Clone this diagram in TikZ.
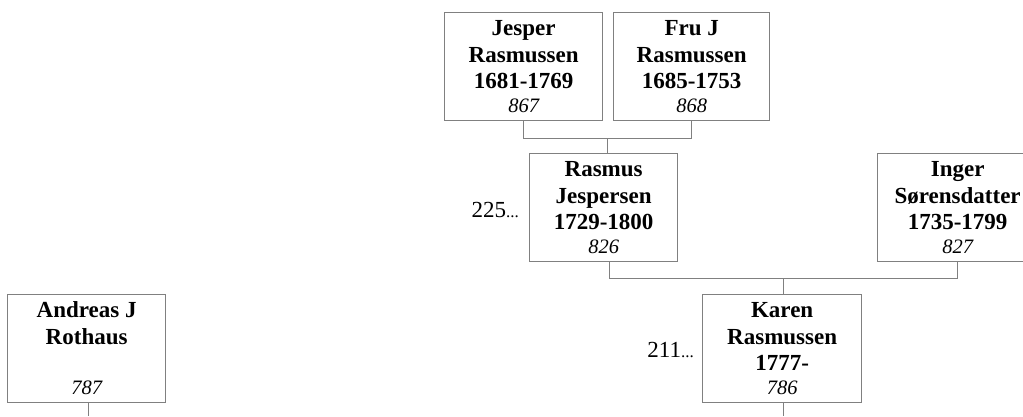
\documentclass[tikz,border=0pt]{standalone}
\usepackage{fontspec}
\usetikzlibrary{calc}
\setmainfont{Liberation Serif}
\newfontfamily\namefont{Liberation Serif}
\definecolor{linegray}{RGB}{128,128,128}
\tikzset{
  personbox/.style={draw=linegray, line width=1.3pt, fill=white, inner sep=0pt, minimum height=108pt, anchor=north west},
  nameline/.style={anchor=base, inner sep=0pt, font=\namefont\bfseries\fontsize{23}{26}\selectfont},
  numline/.style={anchor=base, inner sep=0pt, font=\itshape\fontsize{20.5}{23}\selectfont},
  conn/.style={draw=linegray, line width=1.3pt},
  refnum/.style={anchor=base east, inner sep=0pt}
}
\newcommand{\personnode}[8]{%
  \node[personbox, minimum width=#4] (#1) at (#2,-#3) {};
  \node[nameline] (#1-a) at ([yshift=-23.5pt]#1.north) {#5};
  \node[nameline] (#1-b) at ([yshift=-50pt]#1.north) {#6};
  \node[nameline] (#1-c) at ([yshift=-76.5pt]#1.north) {#7};
  \node[numline] (#1-d) at ([yshift=-100pt]#1.north) {#8};
}
\begin{document}
\begin{tikzpicture}[x=1pt,y=1pt]
\useasboundingbox (0,0) rectangle (1023,-416);
\fill[white] (0,0) rectangle (1023,-416);
% boxes
\personnode{jesper}{444}{12}{158pt}{Jesper}{Rasmussen}{1681-1769}{867}
\personnode{fru}{613}{12}{156pt}{Fru J}{Rasmussen}{1685-1753}{868}
\personnode{rasmus}{529}{153}{148pt}{Rasmus}{Jespersen}{1729-1800}{826}
\personnode{inger}{877}{153}{160pt}{Inger}{Sørensdatter}{1735-1799}{827}
\personnode{karen}{702}{294}{159pt}{Karen}{Rasmussen}{1777-}{786}
\personnode{andreas}{7}{294}{158pt}{Andreas J}{Rothaus}{}{787}
% connectors
\coordinate (jr) at ($(jesper.south)!0.5!(fru.south) + (0,-17)$);
\draw[conn] (jesper.south) -- ++(0,-17) -| (fru.south);
\draw[conn] (jr) -- (jr |- rasmus.north);
\coordinate (ri) at ($([xshift=6pt]rasmus.south)!0.5!(inger.south) + (0,-16)$);
\draw[conn] ([xshift=6pt]rasmus.south) -- ++(0,-16) -| (inger.south);
\draw[conn] (ri) -- (ri |- karen.north);
\coordinate (kbot) at (ri |- 0,-416);
\draw[conn] (ri |- karen.south) -- (kbot);
\coordinate (abot) at ([xshift=2pt]andreas.south |- 0,-416);
\draw[conn] ([xshift=2pt]andreas.south) -- (abot);
% reference numbers
\node[refnum] (r225) at (519,-217) {{\fontsize{23}{26}\selectfont 225}{\fontsize{17}{20}\selectfont ...}};
\node[refnum] (r211) at (694,-357) {{\fontsize{23}{26}\selectfont 211}{\fontsize{17}{20}\selectfont ...}};
\end{tikzpicture}
\end{document}
